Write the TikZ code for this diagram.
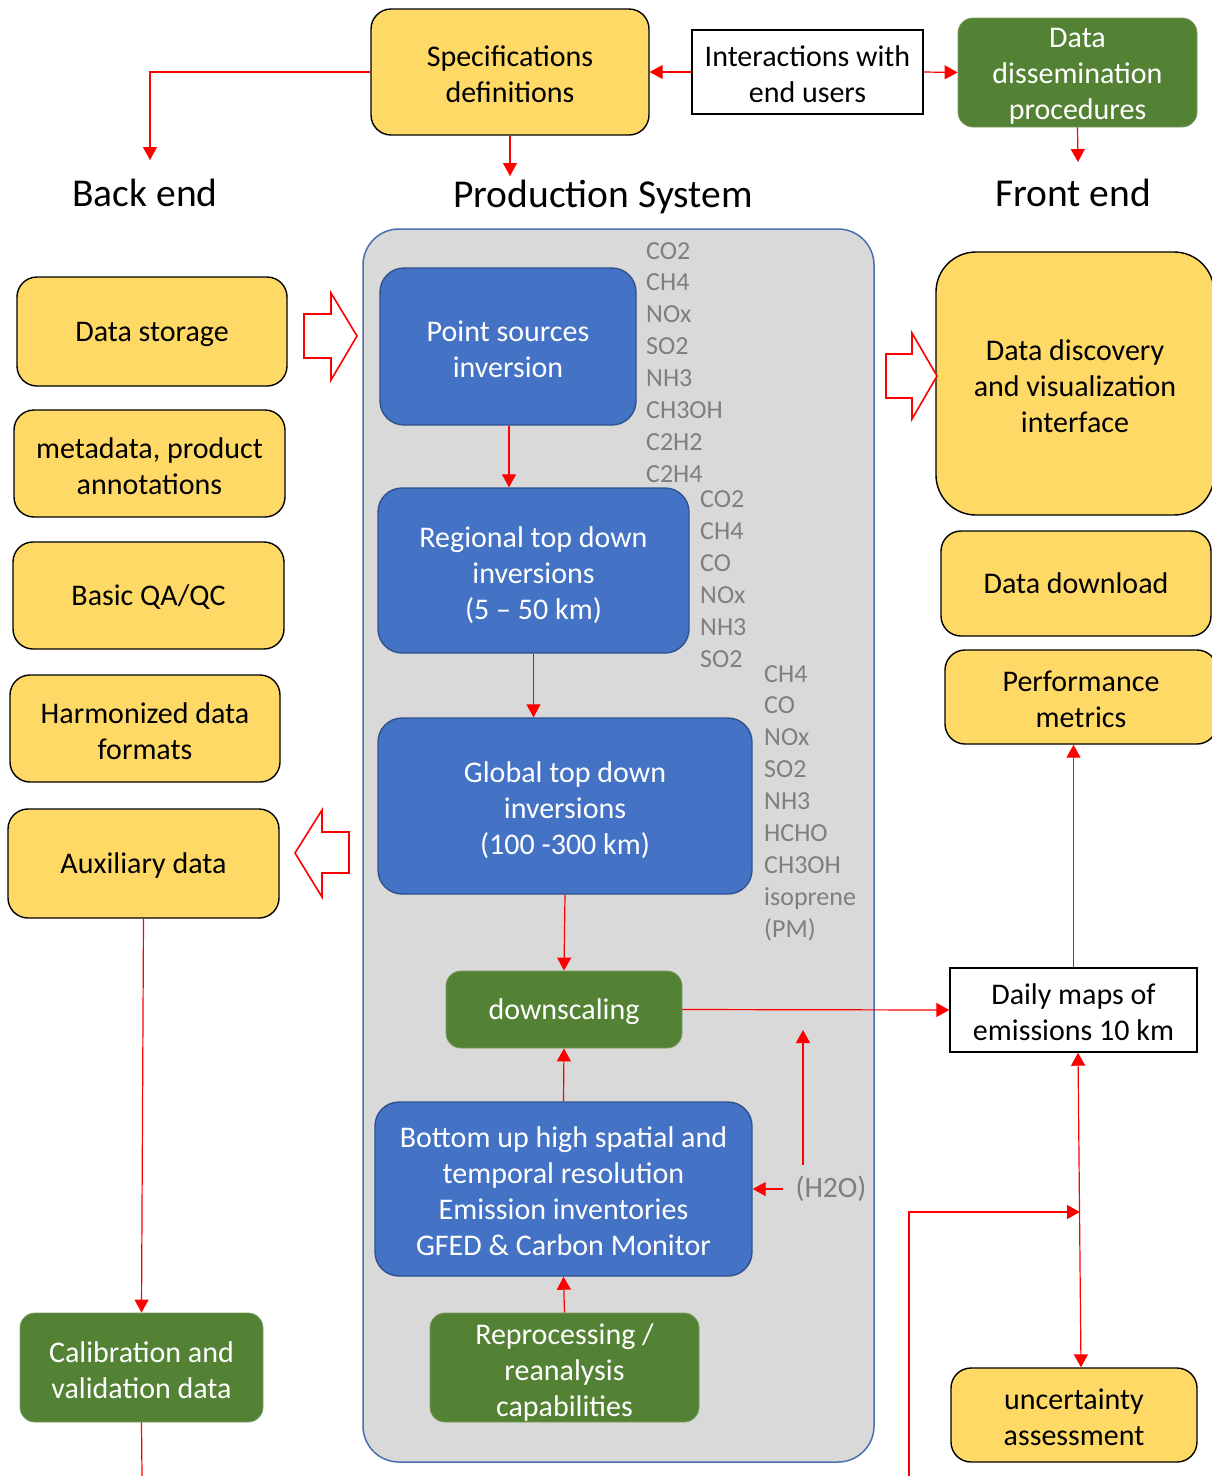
\documentclass[tikz,border=0pt]{standalone}
\usepackage{fontspec}
\setmainfont{Carlito}
\usetikzlibrary{arrows.meta,calc}
\definecolor{yel}{HTML}{FFD966}
\definecolor{grn}{HTML}{548235}
\definecolor{blu}{HTML}{4472C4}
\definecolor{bluline}{HTML}{2F528F}
\definecolor{contgray}{HTML}{D9D9D9}
\definecolor{contline}{HTML}{4A6EB0}
\definecolor{chemgray}{HTML}{7F7F7F}
\newcommand\mlx{\rule{0pt}{33.6pt}}
\begin{document}
\begin{tikzpicture}[x=1pt,y=-1pt,
  txt/.style={font=\fontsize{30pt}{36pt}\selectfont, align=center, inner sep=0pt,
    execute at begin node={\rule{0pt}{28.2pt}},
    execute at end node={\rule[-7.8pt]{0pt}{7.8pt}}},
  ybox/.style={txt, draw=black, line width=1.4pt, fill=yel, rounded corners=20pt},
  gbox/.style={txt, draw=grn!80!white, line width=0.8pt, fill=grn, text=white, rounded corners=15pt},
  bbox/.style={txt, draw=bluline, line width=1.4pt, fill=blu, text=white, rounded corners=24pt},
  wbox/.style={txt, draw=black, line width=1.4pt, fill=white},
  header/.style={font=\fontsize{39.5pt}{44pt}\selectfont, inner sep=0pt},
  chem/.style={font=\fontsize{26pt}{32pt}\selectfont, text=chemgray, inner sep=0pt},
  arr/.style={draw=red, line width=1.2pt, -{Triangle[length=13pt,width=14pt]}},
  arrboth/.style={draw=red, line width=1.2pt, {Triangle[length=13pt,width=14pt]}-{Triangle[length=13pt,width=14pt]}},
  ln/.style={draw=red, line width=1.2pt},
  hollow/.style={draw=red, line width=1.6pt, fill=white, line join=miter}
]
\useasboundingbox (0,0) rectangle (1211,1476);

% container
\draw[fill=contgray, draw=contline, line width=1.5pt, rounded corners=36pt] (363,229) rectangle (874,1462);

% top row
\node[ybox, minimum width=278pt, minimum height=126pt] (spec) at (510,72) {\mlx Specifications\\definitions};
\node[wbox, minimum width=231pt, minimum height=84pt] (inter) at (807.5,72) {\mlx Interactions with\\end users};
\node[gbox, inner ysep=-4pt, minimum width=239pt, minimum height=109pt] (diss) at (1077.5,72.5) {\rule{0pt}{29pt}Data\\dissemination\\procedures};

% headers
\node[header] (backend) at (145,193) {Back end};
\node[header] (prod) at (603,197) {Production System};
\node[header] (frontend) at (1073,193) {Front end};

\coordinate (bk) at (150,160);
\coordinate (pk) at (510,176);
\coordinate (fk) at (1078,162);

% production system
\node[bbox, minimum width=256pt, minimum height=157pt] (ps) at (508,346.5) {\mlx Point sources\\inversion};
\node[bbox, minimum width=311pt, minimum height=165pt] (reg) at (533.5,570.5) {\mlx Regional top down\\inversions\\(5 – 50 km)};
\node[bbox, minimum width=374pt, minimum height=176pt] (glob) at (565,806) {\mlx Global top down\\inversions\\(100 -300 km)};
\node[gbox, minimum width=236pt, minimum height=77pt] (down) at (564,1009.5) {downscaling};
\node[bbox, minimum width=377pt, minimum height=174pt] (bu) at (563.5,1189) {\mlx Bottom up high spatial and\\temporal resolution\\Emission inventories\\GFED \& Carbon Monitor};
\node[gbox, inner ysep=-4pt, minimum width=269pt, minimum height=109pt] (repro) at (564.5,1367.5) {\mlx Reprocessing /\\reanalysis\\capabilities};
\node[chem, font=\fontsize{29.5pt}{32pt}\selectfont] (h2o) at (831,1189) {(H2O)};

\foreach \t [count=\i from 0] in {CO2,CH4,NOx,SO2,NH3,CH3OH,C2H2,C2H4}
  \node[chem, anchor=base west] (la\i) at (646,{259+31.9*\i}) {\t};
\foreach \t [count=\i from 0] in {CO2,CH4,CO,NOx,NH3,SO2}
  \node[chem, anchor=base west] (lb\i) at (700,{507+32*\i}) {\t};
\foreach \t [count=\i from 0] in {CH4,CO,NOx,SO2,NH3,HCHO,CH3OH,isoprene,(PM)}
  \node[chem, anchor=base west] (lc\i) at (764,{682+31.9*\i}) {\t};

% right column
\node[ybox, rounded corners=40pt, minimum width=278pt, minimum height=263pt] (disc) at (1075,383.5) {\mlx Data discovery\\and visualization\\interface};
\node[ybox, minimum width=270pt, minimum height=105pt] (dl) at (1076,583.5) {Data download};
\node[ybox, minimum width=272pt, minimum height=94pt] (perf) at (1081,697) {\mlx Performance\\metrics};
\node[wbox, minimum width=247pt, minimum height=84pt] (daily) at (1073.5,1010) {\mlx Daily maps of\\emissions 10 km};
\node[ybox, minimum width=246pt, minimum height=94pt] (unc) at (1074,1415) {\mlx uncertainty\\assessment};

% left column
\node[ybox, minimum width=270pt, minimum height=109pt] (stor) at (152,331.5) {Data storage};
\node[ybox, minimum width=271pt, minimum height=107pt] (meta) at (149.5,463.5) {\mlx metadata, product\\annotations};
\node[ybox, minimum width=271pt, minimum height=107pt] (qa) at (148.5,595.5) {Basic QA/QC};
\node[ybox, minimum width=270pt, minimum height=107pt] (harm) at (145,728.5) {\mlx Harmonized data\\formats};
\node[ybox, minimum width=271pt, minimum height=109pt] (aux) at (143.5,863.5) {Auxiliary data};
\node[gbox, minimum width=243pt, minimum height=109pt] (cal) at (141.5,1367.5) {\mlx Calibration and\\validation data};

% hollow arrows
\draw[hollow] (304,314) -- (331,314) -- (331,293) -- (357,336) -- (331,380) -- (331,358) -- (304,358) -- cycle;
\draw[hollow] (886,354) -- (912,354) -- (912,333) -- (937,376) -- (912,419) -- (912,398) -- (886,398) -- cycle;
\draw[hollow] (349,832) -- (322,832) -- (322,810) -- (295,853) -- (322,897) -- (322,873) -- (349,873) -- cycle;

% connectors
\draw[arr] (inter.west) -- (spec.east);
\draw[arr] (inter.east) -- (diss.west);
\draw[arr] (spec.west) -| (bk);
\draw[arr] (spec.south) -- (pk);
\draw[arr] (diss.south) -- (fk);
\draw[arr] ([xshift=1pt]ps.south) -- ([xshift=1pt]ps.south |- reg.north);
\draw[arr] (reg.south) -- (reg.south |- glob.north);
\draw[arr] (glob.south) -- (down.north);
\draw[arr] (bu.north) -- (down.south);
\draw[arr] (repro.north) -- (bu.south);
\draw[arr] (down.east) -- (daily.west);
\draw[arr] (daily.north) -- (daily.north |- perf.south);
\draw[arr] ([xshift=-12pt]h2o.west) -- (h2o.west -| bu.east);
\coordinate (h2oa) at (803,1165);
\coordinate (h2ob) at (803,1030);
\draw[arr] (h2oa) -- (h2ob);
\draw[arrboth] ([xshift=4.5pt]daily.south) -- ([xshift=7pt]unc.north);
\coordinate (inb) at (909,1476);
\coordinate (junc) at (1080,1212);
\draw[arr] (inb) |- (junc);
\draw[arr] (aux.south) -- (cal.north);
\coordinate (calout) at (142,1476);
\draw[ln] (cal.south) -- (calout);
\end{tikzpicture}
\end{document}
